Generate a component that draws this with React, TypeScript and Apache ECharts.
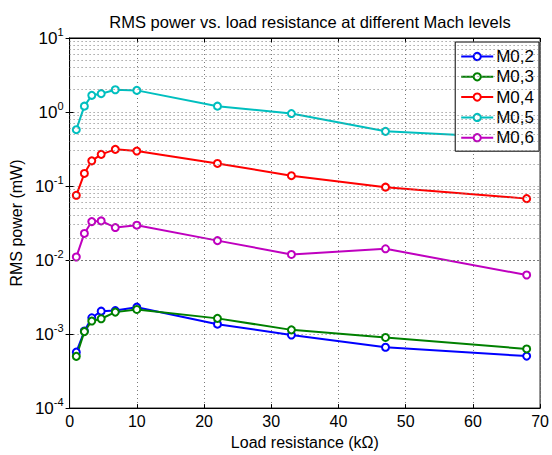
import React, { useEffect, useRef } from "react";
import * as echarts from "echarts";

const resistance = [1, 2.2, 3.3, 4.7, 6.8, 10, 22, 33, 47, 68];
const m02 = [0.00057, 0.0011, 0.00166, 0.00204, 0.00208, 0.00231, 0.00136, 0.00097, 0.000664, 0.000504];
const m03 = [0.0005, 0.00108, 0.0015, 0.00161, 0.00198, 0.00215, 0.00163, 0.00114, 0.0009, 0.00063];
const m04 = [0.075, 0.148, 0.219, 0.268, 0.313, 0.297, 0.202, 0.138, 0.0966, 0.0676];
const m05 = [0.577, 1.2, 1.68, 1.77, 2.0, 1.96, 1.2, 0.953, 0.548, 0.44];
const m06 = [0.011, 0.0229, 0.0331, 0.0338, 0.0275, 0.0296, 0.0183, 0.0119, 0.0142, 0.00628];
const seriesNames = ["M0,2", "M0,3", "M0,4", "M0,5", "M0,6"];
const seriesColors = ["#0000ff", "#008000", "#ff0000", "#00bfbf", "#bf00bf"];
const xTicks = [0, 10, 20, 30, 40, 50, 60, 70];
const decades = [1e-4, 1e-3, 1e-2, 1e-1, 1, 10];

const FONT = "'Liberation Sans', Arial, Helvetica, sans-serif";

export default function App() {
  const ref = useRef<HTMLDivElement>(null);
  useEffect(() => {
    if (!ref.current) return;
    const chart = echarts.init(ref.current, undefined, { renderer: "svg" });
    const values = [m02, m03, m04, m05, m06];
    const minorVals: number[] = [];
    for (let d = 0; d < decades.length - 1; d++) {
      for (let k = 2; k <= 9; k++) minorVals.push(decades[d] * k);
    }
    const dotted = { type: [1, 3] as any, color: "#7a7a7a", width: 1 };
    const option: any = {
      animation: false,
      backgroundColor: "#ffffff",
      textStyle: { fontFamily: FONT },
      title: {
        text: "RMS power vs. load resistance at different Mach levels",
        left: 305,
        textAlign: "center",
        top: 8,
        textStyle: { fontFamily: FONT, fontSize: 16.5, fontWeight: "normal", color: "#000" },
      },
      grid: {
        left: 67,
        right: 9,
        top: 38,
        bottom: 42,
        show: true,
        borderColor: "#000",
        borderWidth: 1,
        backgroundColor: "transparent",
      },
      legend: {
        orient: "vertical",
        right: 13,
        top: 42,
        data: seriesNames,
        backgroundColor: "#ffffff",
        borderColor: "#000",
        borderWidth: 1,
        borderRadius: 0,
        padding: [6, 5, 5, 5],
        itemWidth: 32,
        itemHeight: 9,
        itemGap: 3.3,
        textStyle: { fontFamily: FONT, fontSize: 17, color: "#000", padding: [0, 0, 0, -2] },
      },
      xAxis: [
        {
          type: "value",
          min: 0,
          max: 70,
          interval: 10,
          name: "Load resistance (kΩ)",
          nameLocation: "middle",
          nameGap: 23,
          nameTextStyle: { fontFamily: FONT, fontSize: 16, color: "#000" },
          axisLine: { show: true, lineStyle: { color: "#000", width: 1 } },
          axisTick: { show: true, inside: true, length: 4, lineStyle: { color: "#000" } },
          axisLabel: {
            fontFamily: FONT,
            fontSize: 16,
            color: "#000",
            margin: 5,
            formatter: (v: number) => (xTicks.includes(v) ? String(v) : ""),
          },
          splitLine: { show: true, lineStyle: dotted },
        },
        {
          type: "value",
          position: "top",
          min: 0,
          max: 70,
          interval: 10,
          axisLine: { show: true, lineStyle: { color: "#000", width: 1 } },
          axisTick: { show: true, inside: true, length: 4, lineStyle: { color: "#000" } },
          axisLabel: { show: false },
          splitLine: { show: false },
        },
      ],
      yAxis: [
        {
          type: "log",
          logBase: 10,
          min: 1e-4,
          max: 10,
          name: "RMS power (mW)",
          nameLocation: "middle",
          nameGap: 42,
          nameTextStyle: { fontFamily: FONT, fontSize: 16, color: "#000" },
          axisLine: { show: true, lineStyle: { color: "#000", width: 1 } },
          axisTick: { show: true, inside: true, length: 4, lineStyle: { color: "#000" } },
          axisLabel: {
            margin: 6,
            color: "#000",
            formatter: (v: number) => {
              const e = Math.round(Math.log10(v));
              return "{b|10}{e|" + e + "}";
            },
            rich: {
              b: { fontFamily: FONT, fontSize: 17, color: "#000", verticalAlign: "bottom", lineHeight: 18 },
              e: { fontFamily: FONT, fontSize: 11, color: "#000", verticalAlign: "bottom", lineHeight: 18, padding: [0, 0, 10, 0] },
            },
          },
          splitLine: { show: true, lineStyle: dotted },
        },
        {
          type: "log",
          logBase: 10,
          min: 1e-4,
          max: 10,
          position: "right",
          axisLine: { show: true, lineStyle: { color: "#000", width: 1 } },
          axisTick: { show: true, inside: true, length: 4, lineStyle: { color: "#000" } },
          axisLabel: { show: false },
          splitLine: { show: false },
        },
      ],
      series: [
        {
          type: "line",
          data: [],
          silent: true,
          z: 1,
          markLine: {
            silent: true,
            symbol: "none",
            label: { show: false },
            lineStyle: dotted,
            data: minorVals.map((v) => ({ yAxis: v })),
          },
        },
        ...seriesNames.map((name, i) => ({
          name,
          type: "line",
          z: 3,
          data: resistance.map((r, j) => [r, values[i][j]]),
          symbol: "emptyCircle",
          symbolSize: 7,
          showSymbol: true,
          lineStyle: { color: seriesColors[i], width: 2 },
          itemStyle: { color: seriesColors[i], borderColor: seriesColors[i], borderWidth: 1.6 },
        })),
      ],
    };
    chart.setOption(option);
    return () => chart.dispose();
  }, []);
  return (
    <div
      ref={ref}
      style={{ position: "fixed", left: 0, top: 0, width: 552, height: 455, background: "#fff" }}
    />
  );
}
